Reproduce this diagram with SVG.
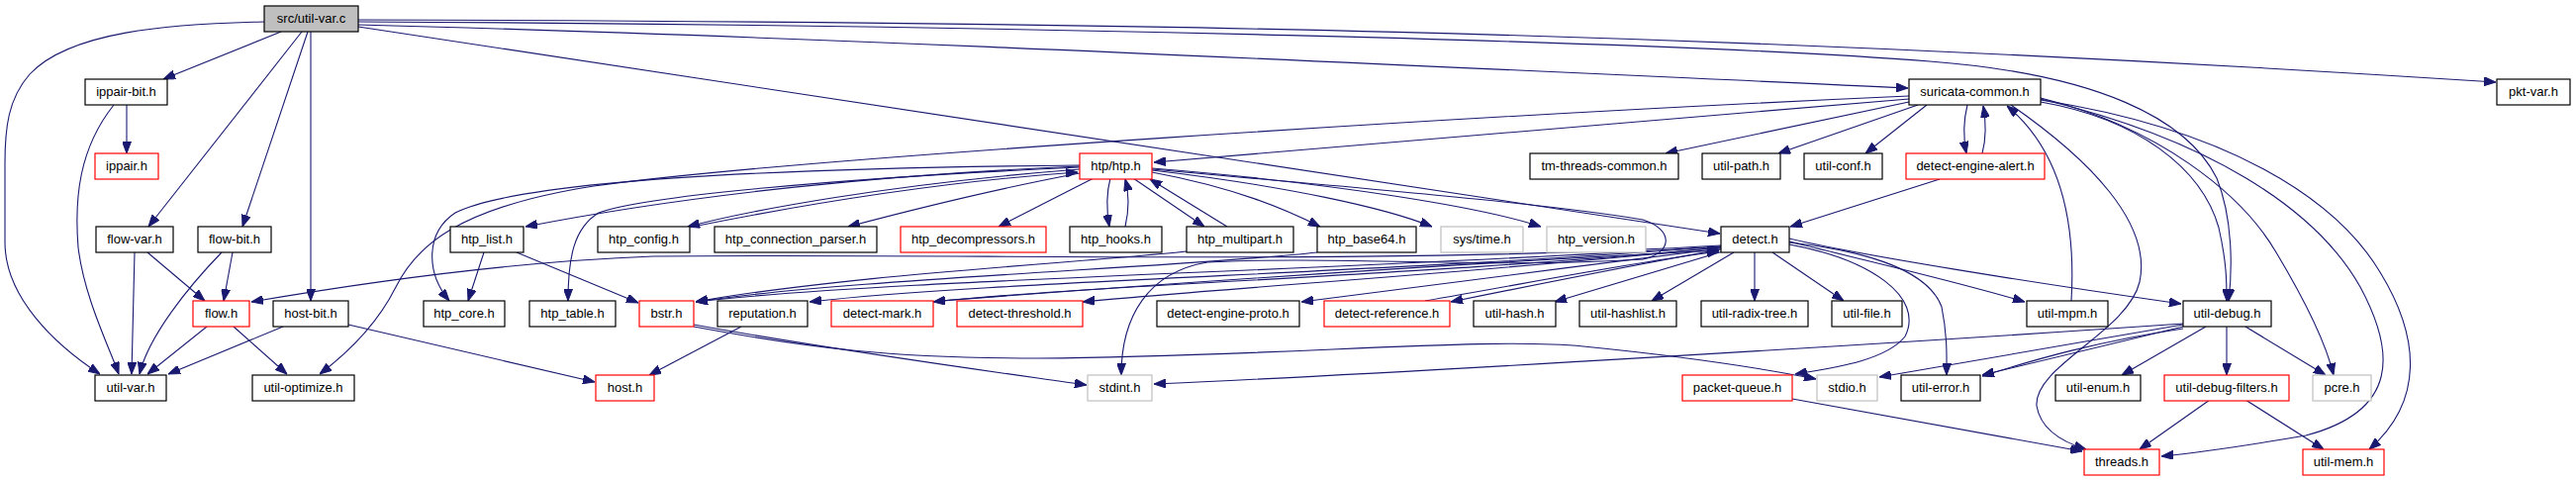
<svg xmlns="http://www.w3.org/2000/svg" width="2603" height="485" viewBox="0 0 2603 485">
<style>
.n rect{fill:#ffffff;stroke:#000000;stroke-width:1.2}
.r rect{stroke:#ff0000}
.g rect{stroke:#bfbfbf}
.root rect{fill:#bfbfbf}
text{font-family:"Liberation Sans",Arial,sans-serif;font-size:13px;text-anchor:middle;fill:#000000}
.e path{fill:none;stroke:#191970;stroke-width:1.1;marker-end:url(#a)}
</style>
<defs>
<marker id="a" markerWidth="12" markerHeight="9" refX="12" refY="4.5" orient="auto" markerUnits="userSpaceOnUse">
<path d="M0,0 L12,4.5 L0,9 z" fill="#191970" stroke="#191970" stroke-width="1"/>
</marker>
</defs>
<rect x="0" y="0" width="2603" height="485" fill="#ffffff"/>
<g id="edges" class="e">
<path d="M267,22 C170,24 70,32 30,75 C8,100 5,130 5,165 L5,245 C5,300 55,348 101,378"/>
<path d="M284,32 L165,80"/>
<path d="M305,32 L150,229"/>
<path d="M311,32 L245,229"/>
<path d="M314,32 L314,304"/>
<path d="M362,25 C800,36 1400,65 1928,89"/>
<path d="M362,20 C1100,22 1700,30 2522,83"/>
<path d="M362,22 C1000,25 1700,42 1950,62 C2120,75 2210,120 2240,180 C2256,220 2256,270 2252,304"/>
<path d="M362,27 L1738,236"/>
<path d="M1929,100 L1166,164"/>
<path d="M1929,97 C1500,116 800,160 600,188 C460,210 420,250 400,290 C385,320 360,350 323,378"/>
<path d="M1929,103 L1683,155"/>
<path d="M1938,106 L1797,155"/>
<path d="M1947,106 L1885,155"/>
<path d="M1988,106 C1984,122 1984,140 1987,155"/>
<path d="M2003,155 C2007,140 2007,124 2004,107"/>
<path d="M1960,181 L1809,229"/>
<path d="M2093,304 C2098,220 2080,150 2028,107"/>
<path d="M2032,106 C2110,160 2175,225 2162,285 C2150,335 2055,370 2058,410 C2062,435 2085,447 2108,454"/>
<path d="M2062,103 C2160,120 2225,170 2242,230 C2250,265 2250,285 2250,304"/>
<path d="M2062,99 C2180,128 2265,195 2300,255 C2330,305 2350,345 2358,379"/>
<path d="M2062,100 C2230,140 2340,210 2385,290 C2420,355 2425,415 2330,440 C2260,452 2215,458 2184,461"/>
<path d="M2062,101 C2250,130 2360,200 2405,275 C2445,340 2450,405 2394,454"/>
<path d="M2206,327 C1900,348 1400,378 1166,388"/>
<path d="M2206,328 L1899,381"/>
<path d="M2206,330 L2003,379"/>
<path d="M2206,332 C2120,345 2060,362 2003,380"/>
<path d="M2229,330 L2144,379"/>
<path d="M2250,330 L2250,379"/>
<path d="M2269,330 L2350,379"/>
<path d="M2233,404 L2162,454"/>
<path d="M2269,404 L2348,454"/>
<path d="M1811,403 L2104,456"/>
<path d="M1752,255 L1669,304"/>
<path d="M1773,255 L1773,304"/>
<path d="M1791,255 L1863,304"/>
<path d="M1741,254 L1571,305"/>
<path d="M1739,252 C1650,268 1540,290 1466,305"/>
<path d="M1440,304 C1550,285 1650,265 1737,254"/>
<path d="M1739,251 C1600,268 1420,292 1315,305"/>
<path d="M1739,250 C1500,275 1250,290 1094,305"/>
<path d="M1739,250 C1450,278 1100,288 943,305"/>
<path d="M950,304 C1200,285 1500,265 1737,253"/>
<path d="M1739,249 C1400,276 1000,284 818,305"/>
<path d="M1739,249 C1350,274 900,282 703,305"/>
<path d="M1739,248 C1400,268 1000,256 660,259 C500,265 330,292 254,305"/>
<path d="M1808,241 C1880,258 2050,285 2204,307"/>
<path d="M1808,244 C1880,262 1980,285 2046,305"/>
<path d="M1808,245 C1900,255 1950,278 1962,310 C1968,340 1967,360 1967,379"/>
<path d="M1808,247 C1890,262 1945,300 1925,340 C1905,365 1850,372 1814,378"/>
<path d="M1164,174 C1250,190 1300,212 1334,229"/>
<path d="M1164,172 C1300,188 1400,210 1447,229"/>
<path d="M1164,170 C1350,185 1500,210 1557,229"/>
<path d="M1145,180 L1217,229"/>
<path d="M1240,229 L1162,181"/>
<path d="M1122,180 C1118,195 1118,212 1121,229"/>
<path d="M1137,229 C1141,212 1141,196 1137,181"/>
<path d="M1105,180 L1009,229"/>
<path d="M1091,175 C1000,192 910,215 857,229"/>
<path d="M1091,171 C900,186 760,212 695,229"/>
<path d="M700,229 C820,205 960,183 1089,174"/>
<path d="M1091,168 C900,176 700,196 531,229"/>
<path d="M1091,167 C750,170 520,185 460,215 C430,235 430,275 454,304"/>
<path d="M1091,169 C850,180 650,198 605,215 C580,230 574,260 574,304"/>
<path d="M1164,171 C1350,188 1560,205 1660,222 C1692,232 1690,256 1660,262 C1500,272 1350,258 1220,265 C1160,275 1133,320 1133,379"/>
<path d="M749,330 L656,379"/>
<path d="M352,328 L601,386"/>
<path d="M286,330 L170,378"/>
<path d="M209,330 L149,378"/>
<path d="M236,330 L290,378"/>
<path d="M136,255 L133,378"/>
<path d="M149,255 L207,304"/>
<path d="M235,255 L226,304"/>
<path d="M224,255 C190,290 150,340 141,378"/>
<path d="M128,106 L128,155"/>
<path d="M115,106 C80,150 75,200 79,250 C85,300 110,350 120,378"/>
<path d="M489,255 L473,304"/>
<path d="M522,255 L645,306"/>
<path d="M1199,254 C1100,265 850,278 703,305"/>
<path d="M1331,255 C1200,270 850,282 703,305"/>
<path d="M701,328 C850,355 1000,375 1098,389"/>
<path d="M701,330 C820,352 900,362 1050,362 C1300,360 1500,340 1600,350 C1700,360 1780,372 1835,383"/>
</g>
<g id="n-src-util-var-c" class="n root"><rect x="267" y="6" width="95" height="26"/><text x="314.5" y="23">src/util-var.c</text></g>
<g id="n-ippair-bit-h" class="n"><rect x="86" y="80" width="83" height="26"/><text x="127.5" y="97">ippair-bit.h</text></g>
<g id="n-suricata-common-h" class="n"><rect x="1929" y="80" width="133" height="26"/><text x="1995.5" y="97">suricata-common.h</text></g>
<g id="n-pkt-var-h" class="n"><rect x="2523" y="80" width="74" height="26"/><text x="2560" y="97">pkt-var.h</text></g>
<g id="n-ippair-h" class="n r"><rect x="96" y="155" width="64" height="26"/><text x="128" y="172">ippair.h</text></g>
<g id="n-htp-htp-h" class="n r"><rect x="1091" y="155" width="73" height="26"/><text x="1127.5" y="172">htp/htp.h</text></g>
<g id="n-tm-threads-common-h" class="n"><rect x="1546" y="155" width="150" height="26"/><text x="1621" y="172">tm-threads-common.h</text></g>
<g id="n-util-path-h" class="n"><rect x="1720" y="155" width="79" height="26"/><text x="1759.5" y="172">util-path.h</text></g>
<g id="n-util-conf-h" class="n"><rect x="1823" y="155" width="79" height="26"/><text x="1862.5" y="172">util-conf.h</text></g>
<g id="n-detect-engine-alert-h" class="n r"><rect x="1926" y="155" width="140" height="26"/><text x="1996" y="172">detect-engine-alert.h</text></g>
<g id="n-flow-var-h" class="n"><rect x="97" y="229" width="78" height="26"/><text x="136" y="246">flow-var.h</text></g>
<g id="n-flow-bit-h" class="n"><rect x="200" y="229" width="74" height="26"/><text x="237" y="246">flow-bit.h</text></g>
<g id="n-htp-list-h" class="n"><rect x="455" y="229" width="74" height="26"/><text x="492" y="246">htp_list.h</text></g>
<g id="n-htp-config-h" class="n"><rect x="604" y="229" width="93" height="26"/><text x="650.5" y="246">htp_config.h</text></g>
<g id="n-htp-connection-parser-h" class="n"><rect x="722" y="229" width="164" height="26"/><text x="804" y="246">htp_connection_parser.h</text></g>
<g id="n-htp-decompressors-h" class="n r"><rect x="910" y="229" width="147" height="26"/><text x="983.5" y="246">htp_decompressors.h</text></g>
<g id="n-htp-hooks-h" class="n"><rect x="1081" y="229" width="93" height="26"/><text x="1127.5" y="246">htp_hooks.h</text></g>
<g id="n-htp-multipart-h" class="n"><rect x="1199" y="229" width="108" height="26"/><text x="1253" y="246">htp_multipart.h</text></g>
<g id="n-htp-base64-h" class="n"><rect x="1331" y="229" width="100" height="26"/><text x="1381" y="246">htp_base64.h</text></g>
<g id="n-sys-time-h" class="n g"><rect x="1456" y="229" width="83" height="26"/><text x="1497.5" y="246">sys/time.h</text></g>
<g id="n-htp-version-h" class="n g"><rect x="1563" y="229" width="100" height="26"/><text x="1613" y="246">htp_version.h</text></g>
<g id="n-detect-h" class="n"><rect x="1739" y="229" width="69" height="26"/><text x="1773.5" y="246">detect.h</text></g>
<g id="n-flow-h" class="n r"><rect x="195" y="304" width="57" height="26"/><text x="223.5" y="321">flow.h</text></g>
<g id="n-host-bit-h" class="n"><rect x="276" y="304" width="76" height="26"/><text x="314" y="321">host-bit.h</text></g>
<g id="n-htp-core-h" class="n"><rect x="428" y="304" width="82" height="26"/><text x="469" y="321">htp_core.h</text></g>
<g id="n-htp-table-h" class="n"><rect x="535" y="304" width="87" height="26"/><text x="578.5" y="321">htp_table.h</text></g>
<g id="n-bstr-h" class="n r"><rect x="646" y="304" width="55" height="26"/><text x="673.5" y="321">bstr.h</text></g>
<g id="n-reputation-h" class="n"><rect x="725" y="304" width="91" height="26"/><text x="770.5" y="321">reputation.h</text></g>
<g id="n-detect-mark-h" class="n r"><rect x="840" y="304" width="103" height="26"/><text x="891.5" y="321">detect-mark.h</text></g>
<g id="n-detect-threshold-h" class="n r"><rect x="967" y="304" width="127" height="26"/><text x="1030.5" y="321">detect-threshold.h</text></g>
<g id="n-detect-engine-proto-h" class="n"><rect x="1169" y="304" width="144" height="26"/><text x="1241" y="321">detect-engine-proto.h</text></g>
<g id="n-detect-reference-h" class="n r"><rect x="1338" y="304" width="127" height="26"/><text x="1401.5" y="321">detect-reference.h</text></g>
<g id="n-util-hash-h" class="n"><rect x="1489" y="304" width="83" height="26"/><text x="1530.5" y="321">util-hash.h</text></g>
<g id="n-util-hashlist-h" class="n"><rect x="1596" y="304" width="98" height="26"/><text x="1645" y="321">util-hashlist.h</text></g>
<g id="n-util-radix-tree-h" class="n"><rect x="1719" y="304" width="108" height="26"/><text x="1773" y="321">util-radix-tree.h</text></g>
<g id="n-util-file-h" class="n"><rect x="1851" y="304" width="71" height="26"/><text x="1886.5" y="321">util-file.h</text></g>
<g id="n-util-mpm-h" class="n"><rect x="2048" y="304" width="82" height="26"/><text x="2089" y="321">util-mpm.h</text></g>
<g id="n-util-debug-h" class="n"><rect x="2206" y="304" width="89" height="26"/><text x="2250.5" y="321">util-debug.h</text></g>
<g id="n-util-var-h" class="n"><rect x="96" y="379" width="72" height="26"/><text x="132" y="396">util-var.h</text></g>
<g id="n-util-optimize-h" class="n"><rect x="255" y="379" width="103" height="26"/><text x="306.5" y="396">util-optimize.h</text></g>
<g id="n-host-h" class="n r"><rect x="602" y="379" width="59" height="26"/><text x="631.5" y="396">host.h</text></g>
<g id="n-stdint-h" class="n g"><rect x="1099" y="379" width="65" height="26"/><text x="1131.5" y="396">stdint.h</text></g>
<g id="n-packet-queue-h" class="n r"><rect x="1700" y="379" width="111" height="26"/><text x="1755.5" y="396">packet-queue.h</text></g>
<g id="n-stdio-h" class="n g"><rect x="1836" y="379" width="61" height="26"/><text x="1866.5" y="396">stdio.h</text></g>
<g id="n-util-error-h" class="n"><rect x="1921" y="379" width="80" height="26"/><text x="1961" y="396">util-error.h</text></g>
<g id="n-util-enum-h" class="n"><rect x="2077" y="379" width="86" height="26"/><text x="2120" y="396">util-enum.h</text></g>
<g id="n-util-debug-filters-h" class="n r"><rect x="2187" y="379" width="126" height="26"/><text x="2250" y="396">util-debug-filters.h</text></g>
<g id="n-pcre-h" class="n g"><rect x="2337" y="379" width="59" height="26"/><text x="2366.5" y="396">pcre.h</text></g>
<g id="n-threads-h" class="n r"><rect x="2106" y="454" width="76" height="26"/><text x="2144" y="471">threads.h</text></g>
<g id="n-util-mem-h" class="n r"><rect x="2327" y="454" width="82" height="26"/><text x="2368" y="471">util-mem.h</text></g>
</svg>
